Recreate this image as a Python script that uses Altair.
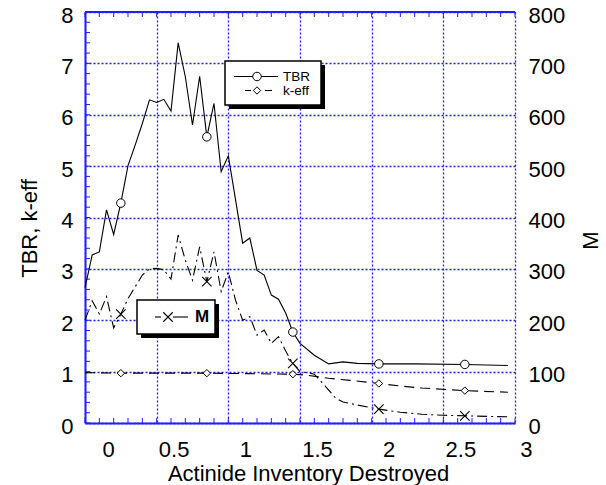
import altair as alt
import pandas as pd

# ---------------- data ----------------
tbr_x = [0.0, 0.05, 0.1, 0.15, 0.2, 0.25, 0.3, 0.35, 0.4, 0.45, 0.5, 0.55, 0.6, 0.65,
         0.7, 0.75, 0.8, 0.85, 0.9, 0.95, 1.0, 1.1, 1.15, 1.2, 1.25, 1.3, 1.35, 1.4,
         1.45, 1.5, 1.6, 1.7, 1.8, 1.9, 2.05, 2.3, 2.65, 2.95]
tbr_y = [2.63, 3.27, 3.33, 4.15, 3.67, 4.28, 5.01, 5.41, 5.83, 6.29, 6.24, 6.30, 6.07, 7.40,
         6.74, 5.80, 6.75, 5.57, 6.22, 4.89, 5.20, 3.50, 3.60, 2.97, 2.88, 2.49, 2.41, 2.14,
         1.77, 1.55, 1.32, 1.15, 1.19, 1.16, 1.15, 1.15, 1.14, 1.12]

keff_x = [0.0, 0.25, 0.85, 1.45, 1.55, 1.7, 1.85, 2.05, 2.2, 2.35, 2.65, 2.95]
keff_y = [0.98, 0.97, 0.97, 0.95, 0.93, 0.87, 0.83, 0.77, 0.72, 0.68, 0.63, 0.60]

m_x = [0.0, 0.05, 0.1, 0.15, 0.2, 0.25, 0.3, 0.35, 0.4, 0.45, 0.5, 0.55, 0.6, 0.65,
       0.7, 0.75, 0.8, 0.85, 0.9, 0.95, 1.0, 1.05, 1.1, 1.15, 1.2, 1.25, 1.3, 1.35,
       1.4, 1.45, 1.5, 1.55, 1.6, 1.65, 1.7, 1.75, 1.8, 1.9, 2.05, 2.2, 2.35, 2.5,
       2.65, 2.95]
m_y = [200, 238, 212, 246, 185, 212, 242, 265, 288, 300, 301, 298, 280, 366,
       317, 278, 343, 275, 333, 256, 294, 239, 200, 207, 171, 181, 155, 168,
       140, 116, 100, 98, 95, 80, 64, 48, 41, 35, 27, 21, 17, 15,
       14, 12]

mark_x = [0.25, 0.85, 1.45, 2.05, 2.65]
tbr_mark = [4.28, 5.57, 1.77, 1.15, 1.14]
keff_mark = [0.97, 0.97, 0.95, 0.77, 0.63]
m_mark = [212, 275, 116, 27, 14]

x_ticks = [0, 0.5, 1, 1.5, 2, 2.5, 3]
y_ticks = [0, 1, 2, 3, 4, 5, 6, 7, 8]
m_ticks = [0, 100, 200, 300, 400, 500, 600, 700, 800]
x_minor = [round(i * 0.1, 1) for i in range(31)]
y_minor = [round(i * 0.2, 1) for i in range(41)]

# ---------------- style ----------------
BLUE = "#1f1fff"
FONT = "Liberation Sans"
W, H = 430, 411

xscale = alt.Scale(domain=[0, 3], nice=False, zero=False)
xaxis = alt.Axis(values=x_ticks, format="~g", title="Actinide Inventory Destroyed",
                 grid=True, gridColor=BLUE, gridDash=[2, 2], gridWidth=1.3, gridOpacity=1,
                 domainColor=BLUE, domainWidth=2, ticks=False,
                 labelOffset=17, labelPadding=16, labelFontSize=22, labelColor="black",
                 labelFont=FONT, titleFont=FONT, titleFontSize=22, titleFontWeight="normal",
                 titleColor="black", titleX=223, titleY=57.5, titleAlign="center",
                 titleBaseline="alphabetic")
yaxis_l = alt.Axis(values=y_ticks, orient="left", title="TBR, k-eff",
                   grid=True, gridColor=BLUE, gridDash=[2, 2], gridWidth=1.3, gridOpacity=1,
                   domainColor=BLUE, domainWidth=2, ticks=False,
                   labelPadding=12, labelOffset=3, labelFontSize=22, labelColor="black",
                   labelFont=FONT, titleFont=FONT, titleFontSize=22, titleFontWeight="normal",
                   titleColor="black", titleX=-56, titleY=216, titleAngle=270,
                   titleAlign="center", titleBaseline="middle")
yaxis_r = alt.Axis(values=m_ticks, orient="right", title="M", grid=False, domain=False,
                   ticks=False, labelPadding=13, labelOffset=3, labelFontSize=22,
                   labelColor="black", labelFont=FONT, titleFont=FONT, titleFontSize=22,
                   titleFontWeight="normal", titleColor="black", titleX=75, titleY=228,
                   titleAngle=270, titleAlign="center", titleBaseline="middle")

X = alt.X("x:Q", scale=xscale, axis=xaxis)
YL = alt.Y("y:Q", scale=alt.Scale(domain=[0, 8], nice=False, zero=False), axis=yaxis_l)
YR = alt.Y("y:Q", scale=alt.Scale(domain=[0, 800], nice=False, zero=False), axis=yaxis_r)

df_tbr = pd.DataFrame({"x": tbr_x, "y": tbr_y})
df_keff = pd.DataFrame({"x": keff_x, "y": keff_y})
df_m = pd.DataFrame({"x": m_x, "y": m_y})
df_tm = pd.DataFrame({"x": mark_x, "y": tbr_mark})
df_km = pd.DataFrame({"x": mark_x, "y": keff_mark})
df_mm = pd.DataFrame({"x": mark_x, "y": m_mark})
df_xminor = pd.DataFrame({"x": x_minor})
df_yminor = pd.DataFrame({"y": y_minor})
one = pd.DataFrame({"a": [0]})

XSHAPE = "M -1 -1 L 1 1 M 1 -1 L -1 1"

# minor ticks (inside the frame)
bottom_ticks = alt.Chart(df_xminor).mark_rule(color=BLUE, strokeWidth=1).encode(
    x=X, y=alt.value(H), y2=alt.value(H - 5))
top_ticks = alt.Chart(df_xminor).mark_rule(color=BLUE, strokeWidth=1).encode(
    x=X, y=alt.value(0), y2=alt.value(5))
left_ticks = alt.Chart(df_yminor).mark_rule(color=BLUE, strokeWidth=1).encode(
    y=YL, x=alt.value(0), x2=alt.value(5))

tbr_line = alt.Chart(df_tbr).mark_line(color="black", strokeWidth=1.1).encode(x=X, y=YL)
keff_line = alt.Chart(df_keff).mark_line(color="black", strokeWidth=1.1,
                                         strokeDash=[10, 6]).encode(x=X, y=YL)
tbr_pts = alt.Chart(df_tm).mark_point(shape="circle", size=72, filled=True, fill="white",
                                      stroke="black", strokeWidth=1, opacity=1).encode(x=X, y=YL)
keff_pts = alt.Chart(df_km).mark_point(shape="diamond", size=55, filled=True, fill="white",
                                       stroke="black", strokeWidth=1, opacity=1).encode(x=X, y=YL)

m_line = alt.Chart(df_m).mark_line(color="black", strokeWidth=1.1,
                                   strokeDash=[10, 4, 2, 4]).encode(x=X, y=YR)
m_pts = alt.Chart(df_mm).mark_point(shape=XSHAPE, size=90, filled=False, stroke="black",
                                    strokeWidth=1.1, opacity=1).encode(x=X, y=YR)

top_border = alt.Chart(one).mark_rule(color=BLUE, strokeWidth=2).encode(
    x=alt.value(0), x2=alt.value(W), y=alt.value(0))


def box(x1, y1, x2, y2):
    shadow = alt.Chart(one).mark_rect(color="black").encode(
        x=alt.value(x1 + 4), x2=alt.value(x2 + 4), y=alt.value(y1 + 4), y2=alt.value(y2 + 4))
    frame = alt.Chart(one).mark_rect(fill="white", stroke="black", strokeWidth=1.5).encode(
        x=alt.value(x1), x2=alt.value(x2), y=alt.value(y1), y2=alt.value(y2))
    return [shadow, frame]


def seg(x1, x2, y, dash=None):
    kw = {"color": "black", "strokeWidth": 1.1}
    if dash:
        kw["strokeDash"] = dash
    return alt.Chart(one).mark_rule(**kw).encode(x=alt.value(x1), x2=alt.value(x2), y=alt.value(y))


def sym(shape, x, y, size, fill=True):
    if fill:
        m = alt.Chart(one).mark_point(shape=shape, size=size, filled=True, fill="white",
                                      stroke="black", strokeWidth=1, opacity=1)
    else:
        m = alt.Chart(one).mark_point(shape=shape, size=size, filled=False, stroke="black",
                                      strokeWidth=1.1, opacity=1)
    return m.encode(x=alt.value(x), y=alt.value(y))


def label(txt, x, y, size=15, weight="normal"):
    return alt.Chart(pd.DataFrame({"t": [txt]})).mark_text(
        align="left", baseline="middle", fontSize=size, font=FONT, fontWeight=weight,
        color="black").encode(text="t:N", x=alt.value(x), y=alt.value(y))


legend_parts = [top_border]
legend_parts += box(140, 49, 236, 93)
legend_parts += [seg(149, 193, 64.5), sym("circle", 172, 64.5, 72),
                 seg(160, 166, 78.5), seg(180, 187, 78.5), sym("diamond", 172, 78.5, 55),
                 label("TBR", 198, 64.5, size=13.5), label("k-eff", 198, 78.5, size=13.5)]
legend_parts += box(52, 288, 130, 322)
legend_parts += [seg(70, 76, 305), seg(88, 103, 305), sym(XSHAPE, 83, 305, 90, fill=False),
                 label("M", 110, 305, size=17, weight="bold")]

left_layer = alt.layer(left_ticks, bottom_ticks, top_ticks, keff_line, tbr_line, keff_pts, tbr_pts)
right_layer = alt.layer(m_line, m_pts)
legend_layer = alt.layer(*legend_parts)

chart = alt.layer(left_layer, right_layer, legend_layer).resolve_scale(
    y="independent"
).properties(
    width=W, height=H,
    padding={"left": 85, "top": 12, "right": 91, "bottom": 62},
    autosize=alt.AutoSizeParams(type="none"),
    background="white",
).configure_view(stroke=None)

chart.save("out.html", embed_options={"renderer": "svg", "actions": False})
